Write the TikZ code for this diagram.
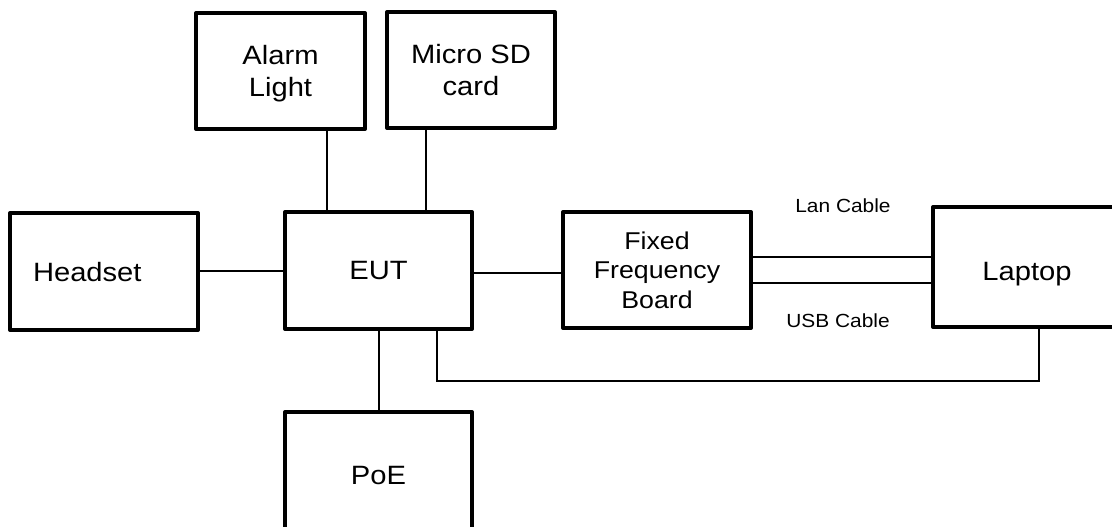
\documentclass[tikz,border=0pt]{standalone}
\usepackage{fontspec}
\setmainfont[FakeStretch=1.1]{Liberation Sans}
\newcommand\diagbig{\fontsize{26.5}{32.5}\selectfont}
\newcommand\diagmid{\fontsize{24.3}{29.3}\selectfont}
\newcommand\diagsmall{\fontsize{19}{22}\selectfont}
\tikzset{
  box/.style={draw, line width=4pt, line join=round, inner sep=0pt, align=center, font=\diagbig, text depth=0pt},
  wire/.style={line width=1.3pt},
  cablelabel/.style={font=\diagsmall, inner sep=0pt},
}
\begin{document}
\begin{tikzpicture}[x=1pt,y=-1pt]
\useasboundingbox (0,0) rectangle (1112,527);
\clip (0,0) rectangle (1112,527);
\fill[white] (0,0) rectangle (1112,527);

\node[box, minimum width=188pt, minimum height=117pt, text width=142pt, align=left, text height=19pt] (headset) at (104,271.5) {Headset};
\node[box, minimum width=187pt, minimum height=117pt] (eut) at (378.5,270.5) {EUT};
\node[box, minimum width=169pt, minimum height=116pt] (alarm) at (280.5,71) {Alarm\\Light};
\node[box, minimum width=168pt, minimum height=116pt] (sd) at (471,70) {Micro SD\\card};
\node[box, minimum width=188pt, minimum height=116pt, font=\diagmid] (ffb) at (657,270) {Fixed\\Frequency\\Board};
\node[box, minimum width=188pt, minimum height=120pt, text height=27pt] (laptop) at (1027,267) {Laptop};
\node[box, minimum width=187pt, minimum height=126pt] (poe) at (378.5,475) {PoE};

\coordinate (xa) at (327,0);
\coordinate (xs) at (426,0);
\coordinate (xp) at (379,0);
\coordinate (hY) at (0,271);
\coordinate (fY) at (0,273);
\coordinate (lanY) at (0,257);
\coordinate (usbY) at (0,283);
\coordinate (loopL) at (437,381);
\coordinate (loopR) at (1039,381);

\draw[wire] (alarm.south -| xa) -- (eut.north -| xa);
\draw[wire] (sd.south -| xs) -- (eut.north -| xs);
\draw[wire] (headset.east |- hY) -- (eut.west |- hY);
\draw[wire] (eut.east |- fY) -- (ffb.west |- fY);
\draw[wire] (ffb.east |- lanY) -- (laptop.west |- lanY);
\draw[wire] (ffb.east |- usbY) -- (laptop.west |- usbY);
\draw[wire] (eut.south -| xp) -- (poe.north -| xp);
\draw[wire] (eut.south -| loopL) -- (loopL) -- (loopR) -- (laptop.south -| loopR);

\node[cablelabel] (lan) at (843,206) {Lan Cable};
\node[cablelabel] (usb) at (838,320.5) {USB Cable};
\end{tikzpicture}
\end{document}
